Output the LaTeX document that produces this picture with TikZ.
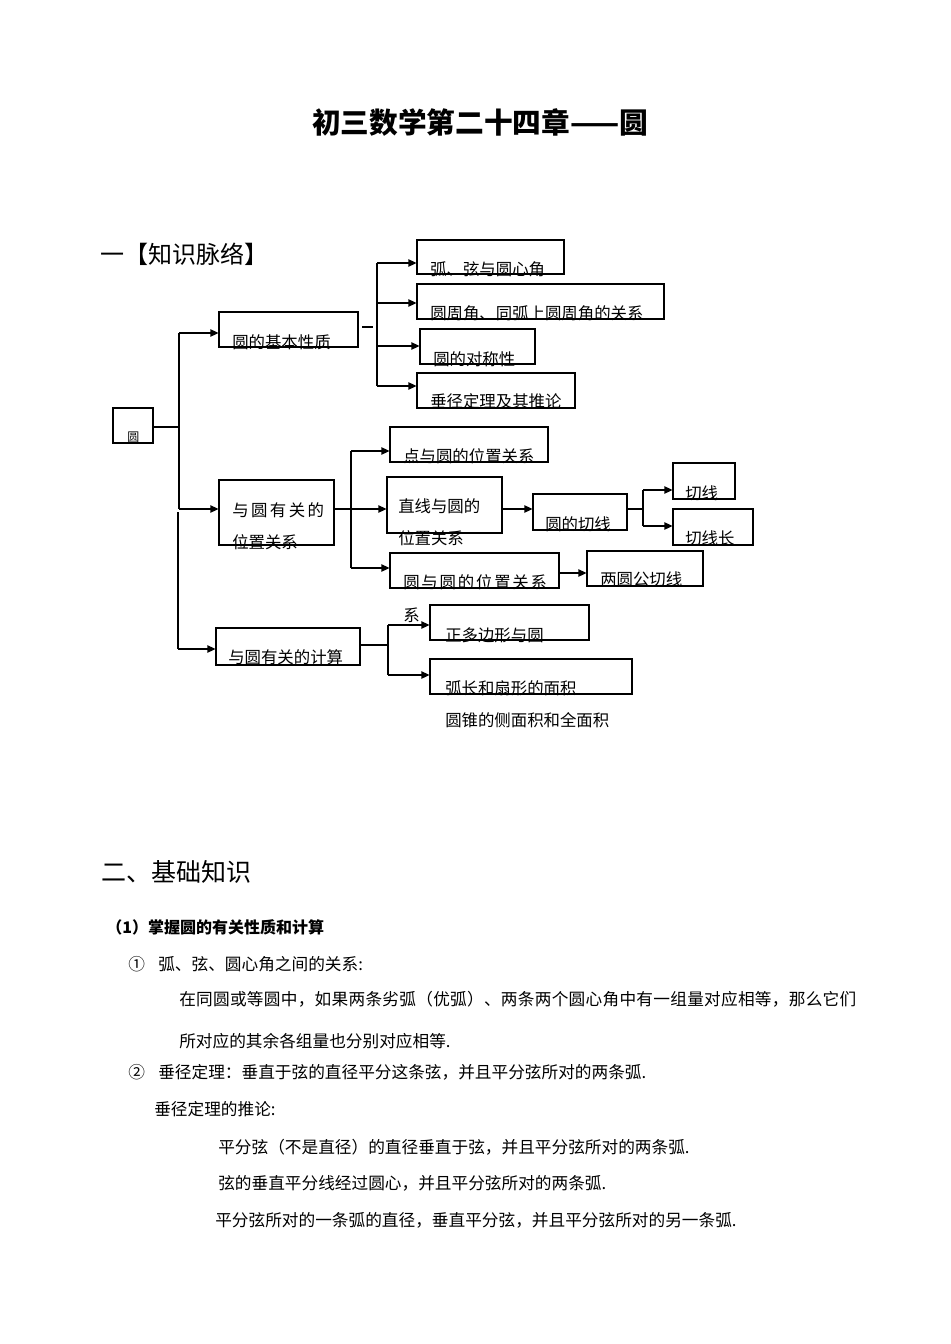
\documentclass[tikz,border=0pt]{standalone}
\usepackage{fontspec}
\setmainfont{Noto Sans CJK SC}
\usetikzlibrary{arrows.meta,fit}
\begin{document}
\begin{tikzpicture}[x=0.75pt,y=-0.75pt,
  box/.style={draw, line width=0.8pt, inner sep=0pt},
  lbl/.style={anchor=west, inner sep=0pt, font=\fontsize{12.3}{14}\selectfont},
  txt/.style={anchor=west, inner sep=0pt, font=\fontsize{12.5}{14}\selectfont},
  arr/.style={line width=0.9pt, -{Triangle[length=6pt,width=5.5pt]}},
  ln/.style={line width=0.9pt}]
\useasboundingbox (0,0) rectangle (950,1344);
\fill[white] (0,0) rectangle (950,1344);

% title and heading
\node[inner sep=0pt, font=\fontsize{21.5}{24}\selectfont\bfseries] (title) at (480,122.5) {初三数学第二十四章——圆};
\node[anchor=west, inner sep=0pt, font=\fontsize{18}{20}\selectfont] (h1) at (100,254) {一【知识脉络】};

% boxes
\node[box, fit={(113,408) (153,443)}] (yuan) {};
\node[box, fit={(219,312) (358,347)}] (jb) {};
\node[box, fit={(417,240) (564,274)}] (b1) {};
\node[box, fit={(417,284) (664,319)}] (b2) {};
\node[box, fit={(420,329) (535,364)}] (b3) {};
\node[box, fit={(417,373) (575,408)}] (b4) {};
\node[box, fit={(219,480) (334,545)}] (wz) {};
\node[box, fit={(390,427) (548,462)}] (d1) {};
\node[box, fit={(387,477) (502,533)}] (d2) {};
\node[box, fit={(533,494) (627,530)}] (qx) {};
\node[box, fit={(673,463) (735,499)}] (qx1) {};
\node[box, fit={(673,509) (753,545)}] (qx2) {};
\node[box, fit={(390,553) (559,588)}] (d3) {};
\node[box, fit={(587,551) (703,586)}] (gq) {};
\node[box, fit={(216,628) (360,665)}] (js) {};
\node[box, fit={(430,605) (589,640)}] (z1) {};
\node[box, fit={(430,659) (632,694)}] (z2) {};

% labels
\node[anchor=west, inner sep=0pt, font=\fontsize{9}{10}\selectfont] (lyuan) at (127,437) {圆};
\node[lbl] (ljb) at (232,342) {圆的基本性质};
\node[lbl] (lb1) at (430,269) {弧、弦与圆心角};
\node[lbl] (lb2) at (430,313) {圆周角、同弧上圆周角的关系};
\node[lbl] (lb3) at (433,359) {圆的对称性};
\node[lbl] (lb4) at (430,401) {垂径定理及其推论};
\node[lbl] (lwza) at (232,510) {\addfontfeature{LetterSpace=15}与圆有关的};
\node[lbl] (lwzb) at (232,542) {位置关系};
\node[lbl] (ld1) at (403,456) {点与圆的位置关系};
\node[lbl] (ld2a) at (398,506) {直线与圆的};
\node[lbl] (ld2b) at (398,538) {位置关系};
\node[lbl] (lqx) at (545,524) {圆的切线};
\node[lbl] (lqx1) at (685,493) {切线};
\node[lbl] (lqx2) at (685,538) {切线长};
\node[lbl] (ld3) at (403,582) {\addfontfeature{LetterSpace=11}圆与圆的位置关系};
\node[lbl] (lgq) at (600,579) {两圆公切线};
\node[lbl] (lxi) at (403,615) {系};
\node[lbl] (lz1) at (445,635) {正多边形与圆};
\node[lbl] (ljs) at (228,657) {与圆有关的计算};
\node[lbl] (lz2) at (445,688) {弧长和扇形的面积};
\node[lbl] (lz3) at (445,720) {圆锥的侧面积和全面积};

% connectors: root
\coordinate (ra) at (179,427);
\draw[ln] (ra -| yuan.east) -- (ra);
\coordinate (ta) at (179,333);
\coordinate (tb) at (179,509);
\draw[ln] (ta) -- (tb);
\draw[arr] (ta) -- (ta -| jb.west);
\draw[arr] (tb) -- (tb -| wz.west);
\coordinate (tc) at (178,512);
\coordinate (td) at (178,649);
\draw[ln] (tc) -- (td);
\draw[arr] (td) -- (td -| js.west);

% basic properties
\coordinate (da) at (362,327);
\coordinate (db) at (373,327);
\draw[ln] (da) -- (db);
\coordinate (s1) at (377,263);
\coordinate (s2) at (377,303);
\coordinate (s3) at (377,346);
\coordinate (s4) at (377,386);
\draw[ln] (s1) -- (s4);
\draw[arr] (s1) -- (s1 -| b1.west);
\draw[arr] (s2) -- (s2 -| b2.west);
\draw[arr] (s3) -- (s3 -| b3.west);
\draw[arr] (s4) -- (s4 -| b4.west);

% position relations
\coordinate (p0) at (351,509);
\coordinate (p1) at (351,451);
\coordinate (p3) at (351,568);
\draw[arr] (p0 -| wz.east) -- (p0 -| d2.west);
\draw[ln] (p1) -- (p3);
\draw[arr] (p1) -- (p1 -| d1.west);
\draw[arr] (p3) -- (p3 -| d3.west);
\coordinate (q0) at (515,509);
\draw[arr] (q0 -| d2.east) -- (q0 -| qx.west);
\coordinate (u0) at (643,509);
\coordinate (u1) at (643,490);
\coordinate (u2) at (643,526);
\draw[ln] (u0 -| qx.east) -- (u0);
\draw[ln] (u1) -- (u2);
\draw[arr] (u1) -- (u1 -| qx1.west);
\draw[arr] (u2) -- (u2 -| qx2.west);
\coordinate (v0) at (573,573);
\draw[arr] (v0 -| d3.east) -- (v0 -| gq.west);

% calculation
\coordinate (w0) at (388,645);
\coordinate (w1) at (388,625);
\coordinate (w2) at (388,675);
\draw[ln] (w0 -| js.east) -- (w0);
\draw[ln] (w1) -- (w2);
\draw[arr] (w1) -- (w1 -| z1.west);
\draw[arr] (w2) -- (w2 -| z2.west);

% section two
\node[anchor=west, inner sep=0pt, font=\fontsize{18.75}{20}\selectfont] (h2) at (101,872) {二、基础知识};
\node[anchor=west, inner sep=0pt, font=\fontsize{12}{14}\selectfont\bfseries] (h3) at (106,927) {（1）掌握圆的有关性质和计算};
\node[txt] (t1n) at (128,964) {①};
\node[txt] (t1) at (158,964) {弧、弦、圆心角之间的关系:};
\node[txt] (t2) at (179,999) {\addfontfeature{LetterSpace=1.6}在同圆或等圆中，如果两条劣弧（优弧）、两条两个圆心角中有一组量对应相等，那么它们};
\node[txt] (t3) at (179,1041) {所对应的其余各组量也分别对应相等.};
\node[txt] (t4n) at (128,1072) {②};
\node[txt] (t4) at (158,1072) {垂径定理：垂直于弦的直径平分这条弦，并且平分弦所对的两条弧.};
\node[txt] (t5) at (154,1109) {垂径定理的推论:};
\node[txt] (t6) at (218,1147) {平分弦（不是直径）的直径垂直于弦，并且平分弦所对的两条弧.};
\node[txt] (t7) at (218,1183) {弦的垂直平分线经过圆心，并且平分弦所对的两条弧.};
\node[txt] (t8) at (215,1220) {平分弦所对的一条弧的直径，垂直平分弦，并且平分弦所对的另一条弧.};
\end{tikzpicture}
\end{document}
